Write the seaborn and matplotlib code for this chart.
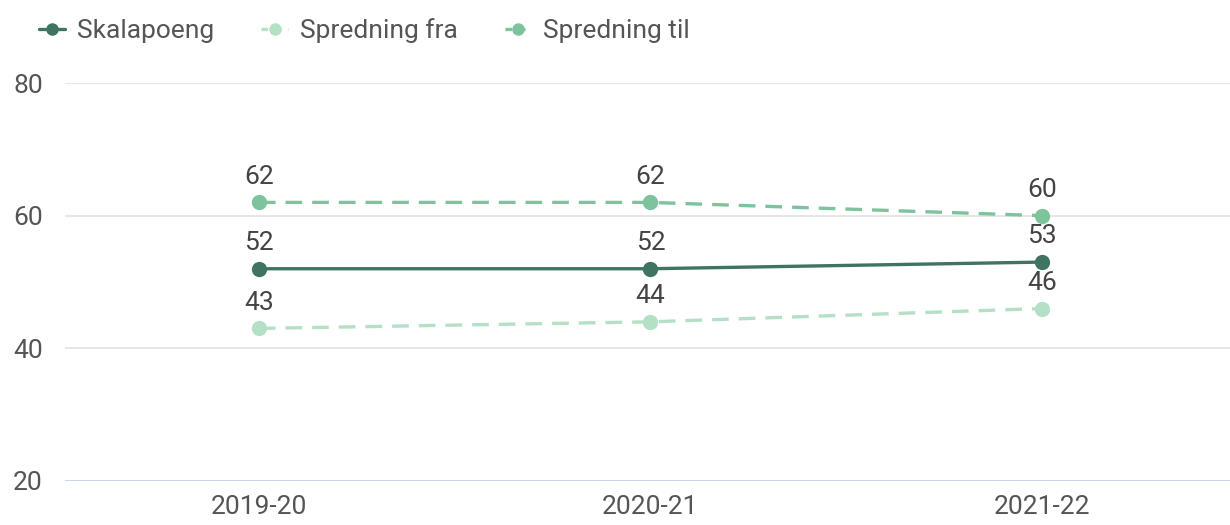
import matplotlib
matplotlib.use("Agg")
import matplotlib.pyplot as plt
import seaborn as sns
import pandas as pd
from matplotlib.lines import Line2D

years = ["2019-20", "2020-21", "2021-22"]
skalapoeng = [52, 52, 53]
spredning_fra = [43, 44, 46]
spredning_til = [62, 62, 60]
series_names = ["Skalapoeng", "Spredning fra", "Spredning til"]
y_ticks = [20, 40, 60, 80]

sns.set_theme(style="white")
plt.rcParams['font.family'] = ['Roboto', 'DejaVu Sans']

colors = {"Skalapoeng": "#3f7362", "Spredning fra": "#b4e0c6", "Spredning til": "#7dc49c"}
dashes = {"Skalapoeng": "", "Spredning fra": (5, 3), "Spredning til": (5, 3)}

rows = []
for name, vals in zip(series_names, [skalapoeng, spredning_fra, spredning_til]):
    for i, (yr, v) in enumerate(zip(years, vals)):
        rows.append({"x": i, "year": yr, "value": v, "series": name})
df = pd.DataFrame(rows)

fig = plt.figure(figsize=(12.3, 5.25), dpi=100)
ax = fig.add_axes([65/1230, 44/525, 1 - 65/1230, (481-83)/525])

sns.lineplot(data=df, x="x", y="value", hue="series", style="series",
             palette=colors, dashes=dashes, markers={n: "o" for n in series_names},
             markersize=11, markeredgewidth=0, linewidth=2.4, ax=ax, legend=False)

text_color = "#555555"
fs = 19
for name, vals in zip(series_names, [skalapoeng, spredning_fra, spredning_til]):
    for i, v in enumerate(vals):
        ax.annotate(str(v), (i, v), xytext=(0, 10), textcoords="offset points",
                    ha="center", va="bottom", fontsize=fs, color="#444444")

ax.set_ylim(20, 80)
ax.set_xlim(-0.495, 2.48)
ax.set_yticks(y_ticks)
ax.set_xticks(range(len(years)))
ax.set_xticklabels(years)
ax.set_xlabel("")
ax.set_ylabel("")
ax.tick_params(axis="both", length=0, labelsize=fs, labelcolor=text_color)
ax.tick_params(axis="y", pad=16)
ax.tick_params(axis="x", pad=10)
for s in ax.spines.values():
    s.set_visible(False)
for t in [40, 60, 80]:
    ax.axhline(t, color="#e2e2e2", linewidth=1.2, zorder=0)
ax.axhline(20, color="#c9d5ea", linewidth=1.5, zorder=0)

handles = [Line2D([0], [0], color=colors[n], marker="o", markersize=9,
                  linestyle="-" if n == "Skalapoeng" else (0, (2, 2)), linewidth=2.4,
                  markeredgewidth=0) for n in series_names]
fig.legend(handles, series_names, loc="upper left", bbox_to_anchor=(0.012, 1.01),
           ncol=3, frameon=False, fontsize=fs, handlelength=1.0, handletextpad=0.45,
           columnspacing=1.8, labelcolor=text_color)

fig.savefig("out.png", dpi=100, facecolor="white")
